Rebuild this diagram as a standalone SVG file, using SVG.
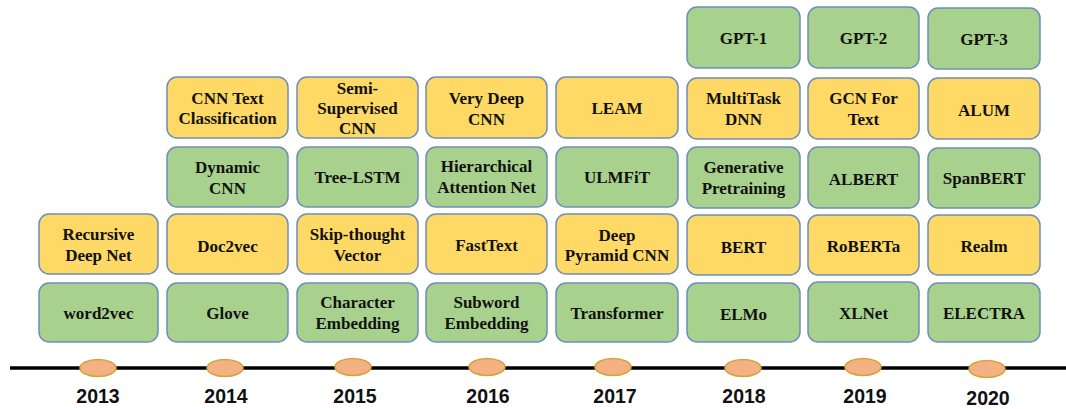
<svg xmlns="http://www.w3.org/2000/svg" width="1066" height="409" viewBox="0 0 1066 409">
<style>
.g{fill:#A9D18E;stroke:#6D8DBA;stroke-width:1.5}
.y{fill:#FFD966;stroke:#6D8DBA;stroke-width:1.5}
.t{font-family:"Liberation Serif","Times New Roman",serif;font-weight:bold;font-size:17px;fill:#111;text-anchor:middle}
.yr{font-family:"Liberation Sans",Arial,sans-serif;font-weight:bold;font-size:19.5px;fill:#111;text-anchor:middle}
.dot{fill:#F4B183;stroke:#D4A53A;stroke-width:1.5}
</style>
<rect width="1066" height="409" fill="#fff"/>
<g id="timeline">
<line x1="10" y1="368" x2="1066" y2="368" stroke="#000" stroke-width="3.5"/>
<ellipse class="dot" cx="98" cy="368" rx="18" ry="8.5"/>
<ellipse class="dot" cx="225" cy="368" rx="18" ry="8.5"/>
<ellipse class="dot" cx="353" cy="367" rx="18" ry="8.5"/>
<ellipse class="dot" cx="487" cy="367" rx="18" ry="8.5"/>
<ellipse class="dot" cx="613" cy="367" rx="18" ry="8.5"/>
<ellipse class="dot" cx="743" cy="368" rx="18" ry="8.5"/>
<ellipse class="dot" cx="863" cy="367" rx="18" ry="8.5"/>
<ellipse class="dot" cx="987" cy="369" rx="18" ry="8.5"/>
<text class="yr" x="98" y="403">2013</text>
<text class="yr" x="226" y="403">2014</text>
<text class="yr" x="355" y="403">2015</text>
<text class="yr" x="488" y="403">2016</text>
<text class="yr" x="615" y="403">2017</text>
<text class="yr" x="744" y="403">2018</text>
<text class="yr" x="865" y="403">2019</text>
<text class="yr" x="988" y="405">2020</text>
</g>
<g id="connectors"></g>
<!-- 2013 -->
<g id="word2vec"><rect class="g" x="39" y="283" width="119" height="59" rx="10"/><text class="t" x="98.5" y="319" font-size="20.5">word2vec</text></g>
<g id="recursive"><rect class="y" x="39" y="214" width="119" height="60" rx="10"/><text class="t" x="98.5" y="239.5">Recursive<tspan x="98.5" y="260.5">Deep Net</tspan></text></g>
<!-- 2014 -->
<g id="glove"><rect class="g" x="167" y="283" width="121" height="59" rx="10"/><text class="t" x="227.5" y="319" font-size="20">Glove</text></g>
<g id="doc2vec"><rect class="y" x="167" y="214" width="121" height="60" rx="10"/><text class="t" x="227.5" y="251.5" font-size="20">Doc2vec</text></g>
<g id="dynamiccnn"><rect class="g" x="167" y="147" width="121" height="60" rx="10"/><text class="t" x="227.5" y="172.5" font-size="18.5">Dynamic<tspan x="227.5" y="193.5">CNN</tspan></text></g>
<g id="cnntext"><rect class="y" x="167" y="77" width="121" height="61" rx="10"/><text class="t" x="227.5" y="103.5" font-size="16.5">CNN Text<tspan x="227.5" y="124">Classification</tspan></text></g>
<!-- 2015 -->
<g id="charemb"><rect class="g" x="297" y="283" width="121" height="59" rx="10"/><text class="t" x="357.5" y="308">Character<tspan x="357.5" y="329">Embedding</tspan></text></g>
<g id="skipthought"><rect class="y" x="297" y="214" width="121" height="60" rx="10"/><text class="t" x="357.5" y="240">Skip-thought<tspan x="357.5" y="261">Vector</tspan></text></g>
<g id="treelstm"><rect class="g" x="297" y="147" width="121" height="60" rx="10"/><text class="t" x="357.5" y="183" font-size="16.5">Tree-LSTM</text></g>
<g id="semisup"><rect class="y" x="297" y="77" width="121" height="61" rx="10"/><text class="t" x="357.5" y="94">Semi-<tspan x="357.5" y="114">Supervised</tspan><tspan x="357.5" y="134">CNN</tspan></text></g>
<!-- 2016 -->
<g id="subword"><rect class="g" x="426" y="283" width="121" height="59" rx="10"/><text class="t" x="486.5" y="308">Subword<tspan x="486.5" y="329">Embedding</tspan></text></g>
<g id="fasttext"><rect class="y" x="426" y="214" width="121" height="60" rx="10"/><text class="t" x="486.5" y="250.5">FastText</text></g>
<g id="han"><rect class="g" x="426" y="147" width="121" height="60" rx="10"/><text class="t" x="486.5" y="172" font-size="16">Hierarchical<tspan x="486.5" y="193">Attention Net</tspan></text></g>
<g id="verydeep"><rect class="y" x="426" y="77" width="121" height="61" rx="10"/><text class="t" x="486.5" y="103.5" font-size="16.5">Very Deep<tspan x="486.5" y="124.5">CNN</tspan></text></g>
<!-- 2017 -->
<g id="transformer"><rect class="g" x="556" y="283" width="122" height="59" rx="10"/><text class="t" x="617" y="318.5" font-size="17.5">Transformer</text></g>
<g id="dpcnn"><rect class="y" x="556" y="214" width="122" height="60" rx="10"/><text class="t" x="617" y="240.5" font-size="16">Deep<tspan x="617" y="261">Pyramid CNN</tspan></text></g>
<g id="ulmfit"><rect class="g" x="556" y="147" width="122" height="60" rx="10"/><text class="t" x="617" y="183" font-size="15">ULMFiT</text></g>
<g id="leam"><rect class="y" x="556" y="77" width="122" height="61" rx="10"/><text class="t" x="617" y="113.5" font-size="16">LEAM</text></g>
<!-- 2018 -->
<g id="elmo"><rect class="g" x="687" y="283" width="113" height="59" rx="10"/><text class="t" x="743.5" y="319.5" font-size="20.5">ELMo</text></g>
<g id="bert"><rect class="y" x="687" y="215" width="113" height="60" rx="10"/><text class="t" x="743.5" y="252.5" font-size="19.5">BERT</text></g>
<g id="genpre"><rect class="g" x="687" y="147" width="113" height="61" rx="10"/><text class="t" x="743.5" y="173" font-size="17.5">Generative<tspan x="743.5" y="194">Pretraining</tspan></text></g>
<g id="mtdnn"><rect class="y" x="687" y="78" width="113" height="61" rx="10"/><text class="t" x="743.5" y="104">MultiTask<tspan x="743.5" y="125">DNN</tspan></text></g>
<g id="gpt1"><rect class="g" x="687" y="7" width="113" height="61" rx="10"/><text class="t" x="743.5" y="44" font-size="16.5">GPT-1</text></g>
<!-- 2019 -->
<g id="xlnet"><rect class="g" x="808" y="282" width="111" height="60" rx="10"/><text class="t" x="863.5" y="318.5" font-size="19.5">XLNet</text></g>
<g id="roberta"><rect class="y" x="808" y="215" width="111" height="60" rx="10"/><text class="t" x="863.5" y="251.5" font-size="19.5">RoBERTa</text></g>
<g id="albert"><rect class="g" x="808" y="147" width="111" height="61" rx="10"/><text class="t" x="863.5" y="185" font-size="19.5">ALBERT</text></g>
<g id="gcn"><rect class="y" x="808" y="78" width="111" height="61" rx="10"/><text class="t" x="863.5" y="103.5" font-size="18.5">GCN For<tspan x="863.5" y="124.5">Text</tspan></text></g>
<g id="gpt2"><rect class="g" x="808" y="7" width="111" height="61" rx="10"/><text class="t" x="863.5" y="44" font-size="16.5">GPT-2</text></g>
<!-- 2020 -->
<g id="electra"><rect class="g" x="928" y="283" width="112" height="59" rx="10"/><text class="t" x="984" y="318.5" font-size="17.5">ELECTRA</text></g>
<g id="realm"><rect class="y" x="928" y="215" width="112" height="60" rx="10"/><text class="t" x="984" y="251.5" font-size="20">Realm</text></g>
<g id="spanbert"><rect class="g" x="928" y="148" width="112" height="60" rx="10"/><text class="t" x="984" y="184">SpanBERT</text></g>
<g id="alum"><rect class="y" x="928" y="78" width="112" height="61" rx="10"/><text class="t" x="984" y="115.5" font-size="19.5">ALUM</text></g>
<g id="gpt3"><rect class="g" x="928" y="8" width="112" height="61" rx="10"/><text class="t" x="984" y="44.5" font-size="16.5">GPT-3</text></g>
</svg>
